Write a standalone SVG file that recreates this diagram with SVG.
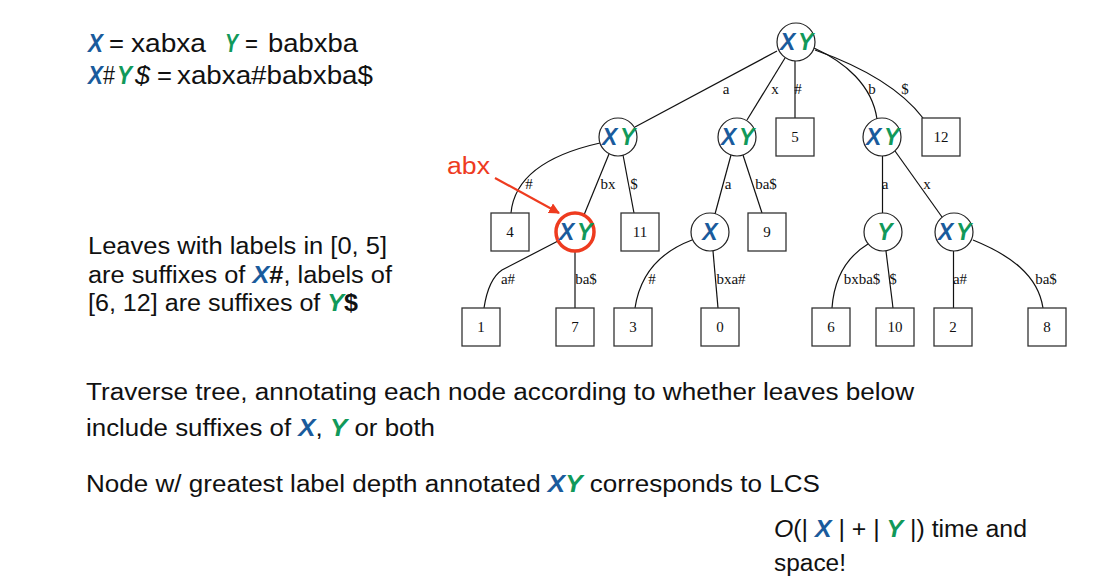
<svg xmlns="http://www.w3.org/2000/svg" width="1101" height="585" viewBox="0 0 1101 585">
<style>
.t{font-family:"Liberation Sans",Arial,sans-serif;fill:#111;font-size:23px}
.bx{font-family:"Liberation Sans",Arial,sans-serif;font-weight:bold;font-style:italic;fill:#1a5b9c}
.by{font-family:"Liberation Sans",Arial,sans-serif;font-weight:bold;font-style:italic;fill:#11995a}
.nl{font-size:23px}
.node circle{fill:#fff;stroke:#222;stroke-width:1.2}
.leaf rect{fill:#fff;stroke:#333;stroke-width:1.3}
.leaf text{font-family:"Liberation Serif","Times New Roman",serif;font-size:15px;fill:#111;text-anchor:middle}
.edges path,.edges line{fill:none;stroke:#111;stroke-width:1.2}
.el{font-family:"Liberation Serif","Times New Roman",serif;font-size:15px;fill:#111;text-anchor:middle}
</style>
<defs>
<marker id="ah" viewBox="0 0 10 10" refX="9" refY="5" markerWidth="5" markerHeight="5" orient="auto" markerUnits="strokeWidth">
<path d="M0,0 L10,5 L0,10 z" fill="#ee3b1f"/>
</marker>
</defs>
<rect width="1101" height="585" fill="#fff"/>

<!-- top-left text -->
<g id="defs-text" class="t">
<text x="88" y="52" font-size="25" class="bx" textLength="15" lengthAdjust="spacingAndGlyphs">X</text>
<text x="109" y="52" font-size="25" textLength="15" lengthAdjust="spacingAndGlyphs">=</text>
<text x="131" y="52" font-size="25" textLength="75" lengthAdjust="spacingAndGlyphs">xabxa</text>
<text x="225" y="52" font-size="25" class="by" textLength="13" lengthAdjust="spacingAndGlyphs">Y</text>
<text x="245" y="52" font-size="25" textLength="13" lengthAdjust="spacingAndGlyphs">=</text>
<text x="268" y="52" font-size="25" textLength="90" lengthAdjust="spacingAndGlyphs">babxba</text>
<text x="88" y="84" font-size="25" class="bx" textLength="15" lengthAdjust="spacingAndGlyphs">X</text>
<text x="103" y="84" font-size="25" textLength="12" lengthAdjust="spacingAndGlyphs">#</text>
<text x="117" y="84" font-size="25" class="by" textLength="15" lengthAdjust="spacingAndGlyphs">Y</text>
<text x="135" y="84" font-size="25" font-style="italic" textLength="15" lengthAdjust="spacingAndGlyphs">$</text>
<text x="157" y="84" font-size="25" textLength="15" lengthAdjust="spacingAndGlyphs">=</text>
<text x="177" y="84" font-size="25" textLength="196" lengthAdjust="spacingAndGlyphs">xabxa#babxba$</text>
</g>

<!-- left middle text -->
<g id="leaves-text" class="t">
<text x="88" y="254" textLength="299" lengthAdjust="spacingAndGlyphs">Leaves with labels in [0, 5]</text>
<text x="88" y="283" textLength="304" lengthAdjust="spacingAndGlyphs">are suffixes of <tspan class="bx">X</tspan><tspan font-weight="bold">#</tspan>, labels of</text>
<text x="88" y="311" textLength="270" lengthAdjust="spacingAndGlyphs">[6, 12] are suffixes of <tspan class="by">Y</tspan><tspan font-weight="bold">$</tspan></text>
</g>

<!-- bottom text -->
<g id="bottom-text" class="t">
<text x="86" y="400" textLength="828" lengthAdjust="spacingAndGlyphs">Traverse tree, annotating each node according to whether leaves below</text>
<text x="86" y="436" textLength="349" lengthAdjust="spacingAndGlyphs">include suffixes of <tspan class="bx">X</tspan>, <tspan class="by">Y</tspan> or both</text>
<text x="86" y="492" textLength="734" lengthAdjust="spacingAndGlyphs">Node w/ greatest label depth annotated <tspan class="bx">X</tspan><tspan class="by">Y</tspan> corresponds to LCS</text>
<text x="774" y="537" textLength="253" lengthAdjust="spacingAndGlyphs"><tspan font-style="italic">O</tspan>(| <tspan class="bx">X</tspan> | + | <tspan class="by">Y</tspan> |) time and</text>
<text x="774" y="571" textLength="72" lengthAdjust="spacingAndGlyphs">space!</text>
</g>

<!-- connectors -->
<g id="edges" class="edges">
<line x1="777" y1="51" x2="635" y2="127"/>
<line x1="785" y1="58" x2="747" y2="120"/>
<line x1="795" y1="61" x2="795" y2="118"/>
<path d="M814,48 C845,62 872,85 877,119"/>
<path d="M815,50 C860,66 900,88 923,118"/>
<path d="M600,143 C560,152 515,170 511,213"/>
<line x1="609" y1="154" x2="584" y2="215"/>
<line x1="623" y1="155" x2="634" y2="213"/>
<line x1="731" y1="155" x2="715" y2="214"/>
<line x1="743" y1="155" x2="762" y2="213"/>
<line x1="882.5" y1="156" x2="882.5" y2="213"/>
<line x1="895" y1="151" x2="942" y2="217"/>
<path d="M558,241 L502,270 C490,278 486,295 484,308"/>
<line x1="575" y1="251" x2="575" y2="308"/>
<path d="M692,240 C660,252 640,275 635,308"/>
<line x1="713" y1="251" x2="718" y2="308"/>
<path d="M868,244 C845,258 834,280 832,308"/>
<line x1="886" y1="251" x2="893" y2="308"/>
<line x1="953.5" y1="251" x2="953.5" y2="308"/>
<path d="M973,240 C1010,255 1038,275 1043,308"/>
<text class="el" x="726" y="94">a</text>
<text class="el" x="775" y="94">x</text>
<text class="el" x="798" y="94">#</text>
<text class="el" x="872" y="94">b</text>
<text class="el" x="905" y="94">$</text>
<text class="el" x="529" y="189">#</text>
<text class="el" x="608" y="189">bx</text>
<text class="el" x="634" y="189">$</text>
<text class="el" x="728" y="189">a</text>
<text class="el" x="766" y="189">ba$</text>
<text class="el" x="885" y="189">a</text>
<text class="el" x="927" y="189">x</text>
<text class="el" x="508" y="284">a#</text>
<text class="el" x="586" y="284">ba$</text>
<text class="el" x="652" y="284">#</text>
<text class="el" x="731" y="284">bxa#</text>
<text class="el" x="862" y="284">bxba$</text>
<text class="el" x="893" y="284">$</text>
<text class="el" x="960" y="284">a#</text>
<text class="el" x="1046" y="284">ba$</text>
</g>

<!-- internal nodes -->
<g id="n-root" class="node"><circle cx="796" cy="42" r="19"/><text x="780" y="50" class="bx nl">X</text><text x="798" y="50" class="by nl">Y</text></g>
<g id="n-a" class="node"><circle cx="618" cy="137" r="19"/><text x="602" y="145" class="bx nl">X</text><text x="620" y="145" class="by nl">Y</text></g>
<g id="n-x" class="node"><circle cx="737" cy="137" r="19"/><text x="721" y="145" class="bx nl">X</text><text x="739" y="145" class="by nl">Y</text></g>
<g id="n-b" class="node"><circle cx="882" cy="137" r="19"/><text x="866" y="145" class="bx nl">X</text><text x="884" y="145" class="by nl">Y</text></g>
<g id="n-abx" class="node"><circle cx="575" cy="232" r="19" style="stroke:#ee3b1f;stroke-width:3.5"/><text x="559" y="240" class="bx nl">X</text><text x="577" y="240" class="by nl">Y</text></g>
<g id="n-xa" class="node"><circle cx="710" cy="232" r="19"/><text x="710" y="240" class="bx nl" text-anchor="middle">X</text></g>
<g id="n-ba" class="node"><circle cx="883" cy="232" r="19"/><text x="885" y="240" class="by nl" text-anchor="middle">Y</text></g>
<g id="n-bx" class="node"><circle cx="954" cy="232" r="19"/><text x="938" y="240" class="bx nl">X</text><text x="956" y="240" class="by nl">Y</text></g>

<!-- leaves -->
<g id="leaf-5" class="leaf"><rect x="776" y="118" width="38" height="38"/><text x="795" y="142">5</text></g>
<g id="leaf-12" class="leaf"><rect x="922" y="118" width="38" height="38"/><text x="941" y="142">12</text></g>
<g id="leaf-4" class="leaf"><rect x="491" y="213" width="38" height="38"/><text x="510" y="237">4</text></g>
<g id="leaf-11" class="leaf"><rect x="621" y="213" width="38" height="38"/><text x="640" y="237">11</text></g>
<g id="leaf-9" class="leaf"><rect x="748" y="213" width="38" height="38"/><text x="767" y="237">9</text></g>
<g id="leaf-1" class="leaf"><rect x="462" y="308" width="38" height="38"/><text x="481" y="332">1</text></g>
<g id="leaf-7" class="leaf"><rect x="556" y="308" width="38" height="38"/><text x="575" y="332">7</text></g>
<g id="leaf-3" class="leaf"><rect x="614" y="308" width="38" height="38"/><text x="633" y="332">3</text></g>
<g id="leaf-0" class="leaf"><rect x="701" y="308" width="38" height="38"/><text x="720" y="332">0</text></g>
<g id="leaf-6" class="leaf"><rect x="812" y="308" width="38" height="38"/><text x="831" y="332">6</text></g>
<g id="leaf-10" class="leaf"><rect x="876" y="308" width="38" height="38"/><text x="895" y="332">10</text></g>
<g id="leaf-2" class="leaf"><rect x="934" y="308" width="38" height="38"/><text x="953" y="332">2</text></g>
<g id="leaf-8" class="leaf"><rect x="1028" y="308" width="38" height="38"/><text x="1047" y="332">8</text></g>

<!-- annotation -->
<g id="abx-callout">
<text x="447" y="174" font-family="Liberation Sans, Arial, sans-serif" font-size="23" fill="#ee3b1f" textLength="43" lengthAdjust="spacingAndGlyphs">abx</text>
<line x1="495" y1="178" x2="559" y2="213" stroke="#ee3b1f" stroke-width="2.2" marker-end="url(#ah)"/>
</g>
</svg>
